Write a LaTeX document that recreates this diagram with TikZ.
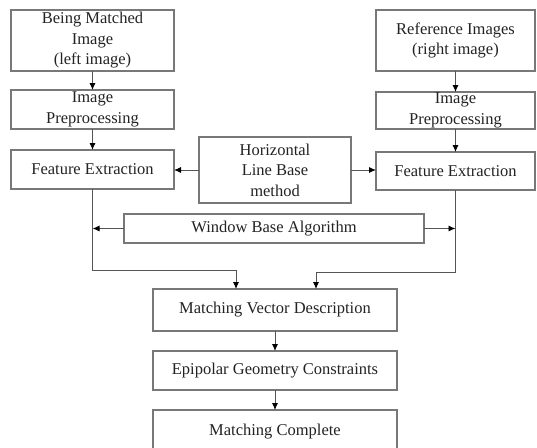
\documentclass[tikz,border=0pt]{standalone}
\usepackage{fontspec}
\setmainfont{Liberation Serif}
\usetikzlibrary{arrows.meta}
\definecolor{bordergray}{RGB}{120,120,120}
\definecolor{txtgray}{RGB}{35,35,35}
\definecolor{linegray}{RGB}{85,85,85}
\tikzset{
  box/.style={draw=bordergray, line width=1.2pt, fill=white, inner sep=0pt, outer sep=0pt,
    align=center, text=txtgray, font=\fontsize{16.5}{20.5}\selectfont},
  arr/.style={draw=linegray, line width=0.9pt, -{Latex[length=7pt,width=6pt,fill=black,color=black]}},
  ln/.style={draw=linegray, line width=0.9pt}
}
\begin{document}
\begin{tikzpicture}[x=1pt,y=-1pt]
\clip (0,0) rectangle (537,447);
\fill[white] (0,0) rectangle (537,447);
% left column
\node[box, minimum width=163pt, minimum height=61pt] (L1) at (92.5,40.5) {Being Matched\\Image\\(left image)};
\node[box, minimum width=163pt, minimum height=39pt] (L2) at (92.5,109.5) {Image\\Preprocessing};
\node[box, minimum width=163pt, minimum height=39pt] (L3) at (92.5,169.5) {Feature Extraction};
% right column
\node[box, minimum width=159pt, minimum height=61pt] (R1) at (455.5,40.5) {Reference Images\\(right image)};
\node[box, minimum width=159pt, minimum height=37pt] (R2) at (455.5,110.5) {Image\\Preprocessing};
\node[box, minimum width=159pt, minimum height=38pt] (R3) at (455.5,171) {Feature Extraction};
% middle
\node[box, minimum width=152pt, minimum height=66pt] (M) at (275,170) {Horizontal\\Line Base\\method};
\node[box, minimum width=300pt, minimum height=29pt] (W) at (274,228.5) {Window Base Algorithm};
% bottom column
\node[box, minimum width=244pt, minimum height=42pt] (V) at (275,310) {Matching Vector Description};
\node[box, minimum width=244pt, minimum height=39pt] (E) at (275,370.5) {Epipolar Geometry Constraints};
\node[box, minimum width=244pt, minimum height=45pt, text depth=0pt] (C) at (275,432.5) {\raisebox{6pt}{Matching Complete}};
% junction coordinates
\coordinate (lt) at (236,270);
\coordinate (rt) at (316,272);
% arrows
\draw[arr] (L1) -- (L2);
\draw[arr] (L2) -- (L3);
\draw[arr] (R1) -- (R2);
\draw[arr] (R2) -- (R3);
\draw[arr] (M.west) -- (M.west -| L3.east);
\draw[arr] (M.east) -- (M.east -| R3.west);
\draw[arr] (L3.south) |- (lt) -- (lt |- V.north);
\draw[arr] (R3.south) |- (rt) -- (rt |- V.north);
\draw[arr] (W.west) -- (W.west -| L3.south);
\draw[arr] (W.east) -- (W.east -| R3.south);
\draw[arr] (V) -- (E);
\draw[arr] (E) -- (C.north);
\end{tikzpicture}
\end{document}
